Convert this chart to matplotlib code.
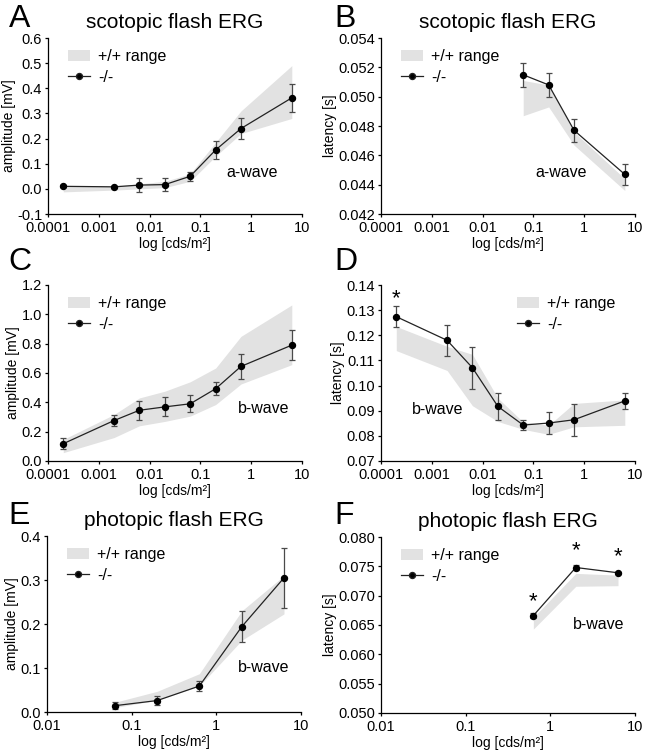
import matplotlib
matplotlib.use("Agg")
import matplotlib.pyplot as plt
from matplotlib.patches import Patch
from matplotlib.lines import Line2D
import numpy as np

plt.rcParams['font.family'] = ['Liberation Sans', 'DejaVu Sans']

# flash intensities (cds/m2)
x_scot = [0.0002, 0.002, 0.0063, 0.02, 0.063, 0.2, 0.63, 6.3]
x_scot_a = [0.063, 0.2, 0.63, 6.3]
x_phot = [0.063, 0.2, 0.63, 2.0, 6.3]
x_phot_lat = [0.63, 2.0, 6.3]

# A: scotopic a-wave amplitude
a_amp = [0.010, 0.008, 0.015, 0.017, 0.050, 0.155, 0.240, 0.362]
a_amp_err = [0.004, 0.004, 0.028, 0.025, 0.017, 0.037, 0.042, 0.056]
a_amp_lo = [-0.012, -0.005, 0.000, 0.005, 0.030, 0.130, 0.220, 0.280]
a_amp_hi = [0.012, 0.010, 0.020, 0.030, 0.060, 0.185, 0.310, 0.490]

# B: scotopic a-wave latency
b_lat = [0.05149, 0.05080, 0.04771, 0.04470]
b_lat_err = [0.0008, 0.0008, 0.00078, 0.0007]
b_lat_lo = [0.0487, 0.0493, 0.0467, 0.0436]
b_lat_hi = [0.0511, 0.0508, 0.0476, 0.0444]

# C: scotopic b-wave amplitude
c_amp = [0.118, 0.276, 0.346, 0.369, 0.390, 0.493, 0.645, 0.790]
c_amp_err = [0.038, 0.040, 0.065, 0.064, 0.057, 0.043, 0.085, 0.104]
c_amp_lo = [0.057, 0.160, 0.240, 0.270, 0.306, 0.385, 0.525, 0.657]
c_amp_hi = [0.147, 0.317, 0.430, 0.476, 0.540, 0.634, 0.850, 1.064]

# D: scotopic b-wave latency
d_lat = [0.1274, 0.1180, 0.1071, 0.0917, 0.0843, 0.0851, 0.0864, 0.0939]
d_lat_err = [0.0043, 0.0062, 0.0083, 0.0055, 0.0020, 0.0042, 0.0063, 0.0033]
d_lat_lo = [0.1139, 0.1060, 0.0920, 0.0857, 0.0826, 0.0806, 0.0836, 0.0842]
d_lat_hi = [0.1235, 0.1156, 0.1124, 0.0950, 0.0855, 0.0842, 0.0929, 0.0943]

# E: photopic b-wave amplitude
e_amp = [0.0143, 0.026, 0.059, 0.194, 0.305]
e_amp_err = [0.0083, 0.011, 0.0105, 0.035, 0.068]
e_amp_lo = [0.010, 0.027, 0.059, 0.163, 0.223]
e_amp_hi = [0.022, 0.047, 0.087, 0.230, 0.310]

# F: photopic b-wave latency
f_lat = [0.0666, 0.0748, 0.0739]
f_lat_err = [0.0004, 0.0004, 0.0002]
f_lat_lo = [0.0643, 0.0716, 0.0717]
f_lat_hi = [0.0663, 0.0738, 0.0735]

band_col = '#e2e2e2'

fig = plt.figure(figsize=(6.47, 7.53), dpi=100)

W = 254 / 647
H = 176 / 753
axA = fig.add_axes([48 / 647, 1 - 214 / 753, W, H])
axB = fig.add_axes([381 / 647, 1 - 214 / 753, W, H])
axC = fig.add_axes([48 / 647, 1 - 461 / 753, W, H])
axD = fig.add_axes([381 / 647, 1 - 461 / 753, W, H])
axE = fig.add_axes([47 / 647, 1 - 712 / 753, W, H])
axF = fig.add_axes([381 / 647, 1 - 713 / 753, W, H])


def panel(ax, x, y, err, lo, hi, xlim, ylim, yticks, yfmt, ylabel):
    ax.fill_between(x, lo, hi, color=band_col, lw=0)
    ax.errorbar(x, y, yerr=err, fmt='none', ecolor='#4a4a4a', elinewidth=0.9,
                capsize=2.5, capthick=0.9)
    ax.plot(x, y, '-', color='#222222', lw=0.9, marker='o', ms=4.3,
            mfc='black', mec='black')
    ax.set_xscale('log')
    ax.set_xlim(xlim)
    ax.set_ylim(ylim)
    dec = [10.0 ** k for k in range(int(np.log10(xlim[0])), 2)]
    ax.set_xticks(dec)
    ax.set_xticklabels([('%g' % d) if d >= 1 else ('%.*f' % (-int(np.log10(d)), d)) for d in dec])
    ax.xaxis.set_minor_locator(matplotlib.ticker.NullLocator())
    ax.set_yticks(yticks)
    ax.set_yticklabels([yfmt % t for t in yticks])
    for s in ['top', 'right']:
        ax.spines[s].set_visible(False)
    for s in ['left', 'bottom']:
        ax.spines[s].set_linewidth(0.9)
    ax.tick_params(direction='out', length=2.2, width=0.9, labelsize=10.5, pad=2)
    ax.tick_params(axis='x', pad=3)
    ax.set_xlabel('log [cds/m²]', fontsize=10, labelpad=1)
    ax.set_ylabel(ylabel, fontsize=10, labelpad=1)
    ax.patch.set_alpha(0)


def add_legend(ax, xa, ya):
    handles = [Patch(facecolor=band_col, edgecolor='none'),
               Line2D([], [], color='#222222', lw=0.9, marker='o', ms=4.3, mfc='black')]
    ax.legend(handles, ['+/+ range', '-/-'], loc='upper left', bbox_to_anchor=(xa, ya),
              frameon=False, fontsize=11.5, handlelength=1.4, handleheight=0.6,
              handletextpad=0.5, labelspacing=0.35, borderpad=0.2)


panel(axA, x_scot, a_amp, a_amp_err, a_amp_lo, a_amp_hi, (1e-4, 10), (-0.1, 0.6),
      np.arange(-0.1, 0.61, 0.1), '%.1f', 'amplitude [mV]')
panel(axB, x_scot_a, b_lat, b_lat_err, b_lat_lo, b_lat_hi, (1e-4, 10), (0.042, 0.054),
      np.arange(0.042, 0.05401, 0.002), '%.3f', 'latency [s]')
panel(axC, x_scot, c_amp, c_amp_err, c_amp_lo, c_amp_hi, (1e-4, 10), (0.0, 1.2),
      np.arange(0.0, 1.21, 0.2), '%.1f', 'amplitude [mV]')
panel(axD, x_scot, d_lat, d_lat_err, d_lat_lo, d_lat_hi, (1e-4, 10), (0.07, 0.14),
      np.arange(0.07, 0.1401, 0.01), '%.2f', 'latency [s]')
panel(axE, x_phot, e_amp, e_amp_err, e_amp_lo, e_amp_hi, (0.01, 10), (0.0, 0.4),
      np.arange(0.0, 0.41, 0.1), '%.1f', 'amplitude [mV]')
panel(axF, x_phot_lat, f_lat, f_lat_err, f_lat_lo, f_lat_hi, (0.01, 10), (0.05, 0.08),
      np.arange(0.05, 0.08001, 0.005), '%.3f', 'latency [s]')

for ax in [axA, axB, axC, axE, axF]:
    add_legend(ax, 0.035, 1.0)
add_legend(axD, 0.49, 1.0)

axA.set_title('scotopic flash ERG', fontsize=15, pad=7)
axB.set_title('scotopic flash ERG', fontsize=15, pad=7)
axE.set_title('photopic flash ERG', fontsize=15, pad=7)
axF.set_title('photopic flash ERG', fontsize=15, pad=7)

axA.text(0.805, 0.234, 'a-wave', transform=axA.transAxes, ha='center', va='center', fontsize=11.5)
axB.text(0.711, 0.234, 'a-wave', transform=axB.transAxes, ha='center', va='center', fontsize=11.5)
axC.text(0.848, 0.298, 'b-wave', transform=axC.transAxes, ha='center', va='center', fontsize=11.5)
axD.text(0.222, 0.295, 'b-wave', transform=axD.transAxes, ha='center', va='center', fontsize=11.5)
axE.text(0.855, 0.255, 'b-wave', transform=axE.transAxes, ha='center', va='center', fontsize=11.5)
axF.text(0.856, 0.503, 'b-wave', transform=axF.transAxes, ha='center', va='center', fontsize=11.5)

# significance marks
axD.text(x_scot[0], 0.1345, '*', ha='center', va='center', fontsize=16)
star_y = [0.0689, 0.0776, 0.0766]
for xx, yy in zip(x_phot_lat, star_y):
    axF.text(xx, yy, '*', ha='center', va='center', fontsize=16)

letters = [('A', 9, 4), ('B', 334, 4), ('C', 8, 247), ('D', 334, 247), ('E', 8, 501), ('F', 334, 501)]
for lab, px, py in letters:
    fig.text(px / 647, 1 - py / 753, lab, fontsize=23, ha='left', va='top')

fig.savefig('out.png', dpi=100)
